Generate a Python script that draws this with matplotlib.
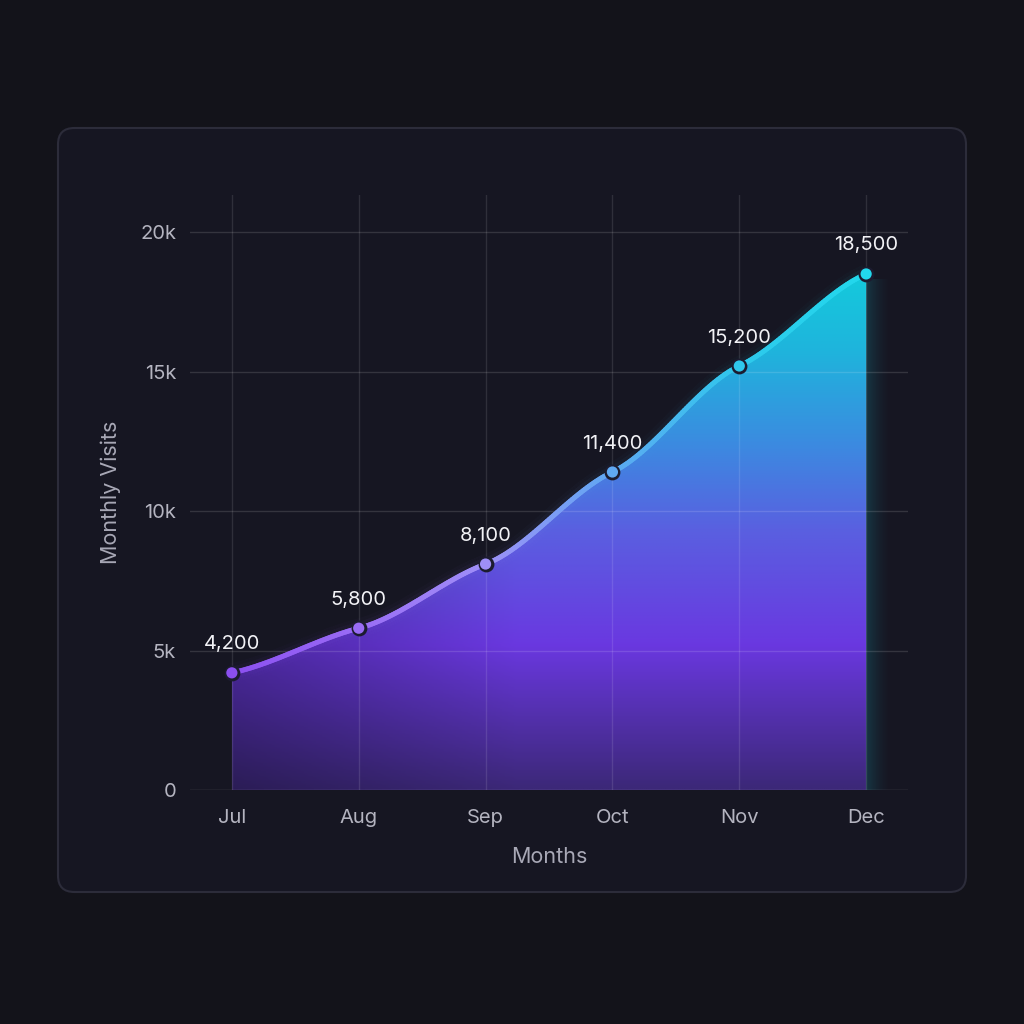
import numpy as np
import matplotlib
matplotlib.use("Agg")
import matplotlib.pyplot as plt
from matplotlib.patches import FancyBboxPatch, Polygon
from matplotlib.collections import LineCollection
from matplotlib.colors import LinearSegmentedColormap, to_rgb

months = ["Jul", "Aug", "Sep", "Oct", "Nov", "Dec"]
visits = [4200, 5800, 8100, 11400, 15200, 18500]
labels = ["4,200", "5,800", "8,100", "11,400", "15,200", "18,500"]
yticks = [0, 5000, 10000, 15000, 20000]
yticklabels = ["0", "5k", "10k", "15k", "20k"]

plt.rcParams['font.family'] = ['Inter', 'DejaVu Sans']

fig = plt.figure(figsize=(10.24, 10.24), dpi=100)
fig.patch.set_facecolor("#13131a")

# card
card = FancyBboxPatch((58/1024, 1-892/1024), (966-58)/1024, (892-128)/1024,
                      boxstyle="round,pad=0,rounding_size=0.016",
                      transform=fig.transFigure, facecolor="#161622",
                      edgecolor="#2c2c3a", linewidth=1.5, zorder=-5)
fig.add_artist(card)

ax = fig.add_axes([190/1024, 1-790/1024, (908-190)/1024, (790-195)/1024])
ax.set_zorder(2)
ax.set_facecolor("none")
x = np.arange(len(months))
y = np.array(visits, dtype=float)

ax.set_xlim(-0.33, 5.33)
ax.set_ylim(0, 21330)

# smooth curve y(x): cubic Hermite with softened tangents
def smooth(xp, yp, tension=0.4, n=60):
    d = np.diff(yp) / np.diff(xp)
    m = np.zeros_like(yp)
    m[1:-1] = (d[:-1] + d[1:]) / 2
    m[0], m[-1] = d[0], d[-1]
    m *= (1 - tension)
    xs, ys = [], []
    for i in range(len(xp) - 1):
        h = xp[i+1] - xp[i]
        t = np.linspace(0, 1, n, endpoint=(i == len(xp) - 2))
        h00 = 2*t**3 - 3*t**2 + 1; h10 = t**3 - 2*t**2 + t
        h01 = -2*t**3 + 3*t**2;    h11 = t**3 - t**2
        xs.append(xp[i] + t*h)
        ys.append(h00*yp[i] + h10*h*m[i] + h01*yp[i+1] + h11*h*m[i+1])
    return np.concatenate(xs), np.concatenate(ys)

cx, cy = smooth(x.astype(float), y)

# right-edge glow (outside the fill)
gw = 60
ga = np.linspace(0.35, 0, gw)[None, :] ** 1.6
glow = np.zeros((10, gw, 4)); glow[..., :3] = to_rgb("#19c8dc"); glow[..., 3] = ga
ax.imshow(glow, extent=[5, 5.2, 0, 18300], origin="lower", aspect="auto",
          zorder=0.8, interpolation="bilinear")

# gradient fill
vcmap = LinearSegmentedColormap.from_list("v", [
    (0.0, "#3c2878"), (0.28, "#6a38e0"), (0.5, "#5a5fe0"),
    (0.68, "#3a8de0"), (0.85, "#1fb4dc"), (1.0, "#14cadc")])
H, W = 400, 300
yy = np.linspace(0, 1, H)[:, None]
img = vcmap(np.repeat(yy, W, axis=1))[:, :, :3]
xxf = np.linspace(0, 1, W)[None, :]
shade = 0.72 + 0.28*np.clip(xxf/0.45, 0, 1)
img = img*shade[:, :, None]
fill_poly = Polygon(np.column_stack([np.concatenate([cx, [cx[-1], cx[0]]]),
                                     np.concatenate([cy, [0, 0]])]),
                    closed=True, facecolor="none", edgecolor="none")
ax.add_patch(fill_poly)
im = ax.imshow(img, extent=[0, 5, 0, 18500], origin="lower", aspect="auto",
               zorder=1, interpolation="bilinear")
im.set_clip_path(fill_poly)

# grid
for v in yticks:
    ax.axhline(v, color="#ffffff", alpha=0.13 if v else 0.22, lw=1, zorder=2)
for xi in x:
    ax.axvline(xi, ymax=1.0, color="#ffffff", alpha=0.11, lw=1, zorder=2)

# line with colour gradient
lcmap = LinearSegmentedColormap.from_list("l", [
    (0.0, "#8b4ff0"), (0.2, "#9a6cf5"), (0.4, "#9f8ff7"),
    (0.6, "#5fa8f2"), (0.8, "#2fc8ec"), (1.0, "#22d8ec")])
pts = np.column_stack([cx, cy]).reshape(-1, 1, 2)
segs = np.concatenate([pts[:-1], pts[1:]], axis=1)
cvals = (cx[:-1] + cx[1:]) / 2 / 5
for w, a in [(14, 0.025), (9, 0.045)]:
    lc = LineCollection(segs, cmap=lcmap, linewidths=w, alpha=a, zorder=3,
                        capstyle="butt")
    lc.set_array(cvals); lc.set_clim(0, 1)
    ax.add_collection(lc)
lc = LineCollection(segs, cmap=lcmap, linewidths=3.6, zorder=4, capstyle="round")
lc.set_array(cvals); lc.set_clim(0, 1)
ax.add_collection(lc)

# markers
mcols = [lcmap(xi/5) for xi in x]
ax.scatter(x, y, s=130, c="#1c1c30", zorder=5, linewidths=0)
ax.scatter(x, y, s=65, c=mcols, zorder=6, linewidths=0)

for xi, yi, lab in zip(x, y, labels):
    ax.annotate(lab, (xi, yi), xytext=(0, 14), textcoords="offset points",
                ha="center", va="bottom", color="#f2f2f6", fontsize=14.5, zorder=7)

ax.set_xticks(x)
ax.set_xticklabels(months)
ax.set_yticks(yticks)
ax.set_yticklabels(yticklabels)
ax.tick_params(length=0, colors="#b4b4c0", labelsize=14.5)
ax.tick_params(axis="x", pad=14)
ax.tick_params(axis="y", pad=10)
for s in ax.spines.values():
    s.set_visible(False)
ax.set_xlabel("Months", color="#a8a8b6", fontsize=15.5, labelpad=14)
ax.set_ylabel("Monthly Visits", color="#a8a8b6", fontsize=15.5, labelpad=14)

fig.savefig("out.png", dpi=100, facecolor=fig.get_facecolor())
